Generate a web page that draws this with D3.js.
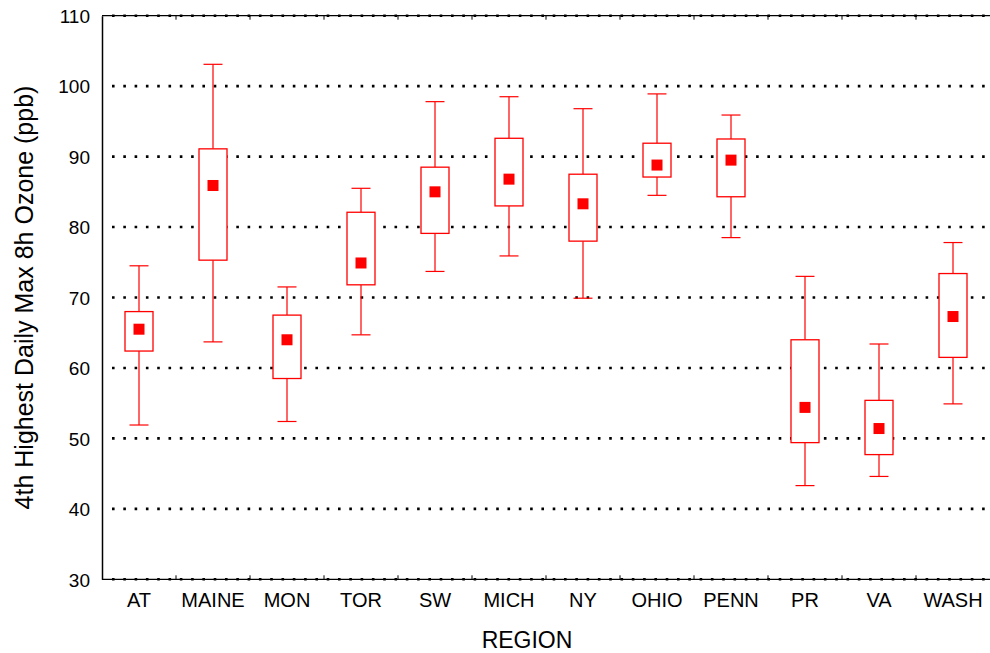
<!DOCTYPE html>
<html>
<head>
<meta charset="utf-8">
<script src="https://cdn.jsdelivr.net/npm/d3@7"></script>
<style>
  body { margin: 0; background: #fff; }
  text { font-family: "Liberation Sans", Arial, sans-serif; fill: #000; }
</style>
</head>
<body>
<div id="chart"></div>
<script>
// data
const regions = ["AT", "MAINE", "MON", "TOR", "SW", "MICH", "NY", "OHIO", "PENN", "PR", "VA", "WASH"];
const whiskerHigh = [74.5, 103.1, 71.5, 85.5, 97.8, 98.5, 96.8, 98.9, 95.9, 73.0, 63.4, 77.8];
const boxHigh     = [68.0, 91.1, 67.5, 82.1, 88.5, 92.6, 87.5, 91.9, 92.5, 64.0, 55.4, 73.4];
const centre      = [65.5, 85.9, 64.0, 74.9, 85.0, 86.8, 83.3, 88.8, 89.5, 54.4, 51.4, 67.3];
const boxLow      = [62.4, 75.3, 58.5, 71.8, 79.1, 83.0, 78.0, 87.1, 84.3, 49.4, 47.7, 61.5];
const whiskerLow  = [51.9, 63.7, 52.4, 64.7, 73.7, 75.9, 69.9, 84.5, 78.5, 43.3, 44.6, 54.9];
const yTicks = [30, 40, 50, 60, 70, 80, 90, 100, 110];

const W = 990, H = 653;
const plotLeft = 102, plotRight = 990, plotTop = 15.7, plotBottom = 579.3;
const red = "#ff0000";

const data = regions.map((r, i) => ({
    key: r, wHi: whiskerHigh[i], bHi: boxHigh[i], mid: centre[i], bLo: boxLow[i], wLo: whiskerLow[i]
}));

const svg = d3.select("#chart").append("svg")
    .attr("width", W)
    .attr("height", H);

const x = d3.scaleBand().domain(regions).range([plotLeft, plotRight]).padding(0);
const y = d3.scaleLinear().domain([30, 110]).range([plotBottom, plotTop]);

// dotted grid
svg.append("g")
    .selectAll("line")
    .data(yTicks)
    .enter()
    .append("line")
    .attr("x1", plotLeft + 10)
    .attr("x2", plotRight)
    .attr("y1", d => y(d))
    .attr("y2", d => y(d))
    .attr("stroke", "#000")
    .attr("stroke-width", 2.6)
    .attr("stroke-dasharray", "2.6 8.7");

// frame lines top + bottom
[110, 30].forEach(v => {
    svg.append("line")
        .attr("x1", plotLeft).attr("x2", plotRight)
        .attr("y1", y(v)).attr("y2", y(v))
        .attr("stroke", "#000").attr("stroke-width", 1.3);
});

// Y axis
const yAxis = svg.append("g")
    .attr("transform", `translate(${plotLeft},0)`)
    .call(d3.axisLeft(y).tickValues(yTicks).tickSize(0).tickPadding(12));
yAxis.select(".domain").attr("stroke", "#000").attr("stroke-width", 1.5);
yAxis.selectAll("text").style("font-size", "19px").attr("dy", "0.36em");

// X axis labels
const xAxis = svg.append("g")
    .attr("transform", `translate(0,${plotBottom})`)
    .call(d3.axisBottom(x).tickSize(0).tickPadding(14));
xAxis.select(".domain").remove();
xAxis.selectAll("text").style("font-size", "20px");

// small ticks at band edges
const edges = regions.slice(1).map(r => x(r));
svg.append("g").selectAll("line").data(edges).enter().append("line")
    .attr("x1", d => d).attr("x2", d => d)
    .attr("y1", y(110)).attr("y2", y(110) + 4)
    .attr("stroke", "#000").attr("stroke-width", 1);
svg.append("g").selectAll("line").data(edges).enter().append("line")
    .attr("x1", d => d).attr("x2", d => d)
    .attr("y1", y(30)).attr("y2", y(30) - 4)
    .attr("stroke", "#000").attr("stroke-width", 1);

// titles
svg.append("text")
    .attr("transform", `translate(33,${(plotTop + plotBottom) / 2}) rotate(-90)`)
    .attr("text-anchor", "middle")
    .style("font-size", "25px")
    .text("4th Highest Daily Max 8h Ozone (ppb)");

svg.append("text")
    .attr("x", 527)
    .attr("y", 648)
    .attr("text-anchor", "middle")
    .style("font-size", "23px")
    .text("REGION");

// boxes
const boxW = 28, capW = 19, dot = 11;
const g = svg.append("g")
    .selectAll("g")
    .data(data)
    .enter()
    .append("g")
    .attr("transform", d => `translate(${x(d.key) + x.bandwidth() / 2},0)`);

g.append("line") // upper whisker
    .attr("x1", 0).attr("x2", 0)
    .attr("y1", d => y(d.wHi)).attr("y2", d => y(d.bHi))
    .attr("stroke", red).attr("stroke-width", 1.2);
g.append("line") // lower whisker
    .attr("x1", 0).attr("x2", 0)
    .attr("y1", d => y(d.bLo)).attr("y2", d => y(d.wLo))
    .attr("stroke", red).attr("stroke-width", 1.2);
g.append("line")
    .attr("x1", -capW / 2).attr("x2", capW / 2)
    .attr("y1", d => y(d.wHi)).attr("y2", d => y(d.wHi))
    .attr("stroke", red).attr("stroke-width", 1.2);
g.append("line")
    .attr("x1", -capW / 2).attr("x2", capW / 2)
    .attr("y1", d => y(d.wLo)).attr("y2", d => y(d.wLo))
    .attr("stroke", red).attr("stroke-width", 1.2);
g.append("rect")
    .attr("x", -boxW / 2)
    .attr("width", boxW)
    .attr("y", d => y(d.bHi))
    .attr("height", d => y(d.bLo) - y(d.bHi))
    .attr("fill", "#fff")
    .attr("stroke", red).attr("stroke-width", 1.3);
g.append("rect")
    .attr("x", -dot / 2)
    .attr("width", dot)
    .attr("y", d => y(d.mid) - dot / 2)
    .attr("height", dot)
    .attr("fill", red);
</script>
</body>
</html>
